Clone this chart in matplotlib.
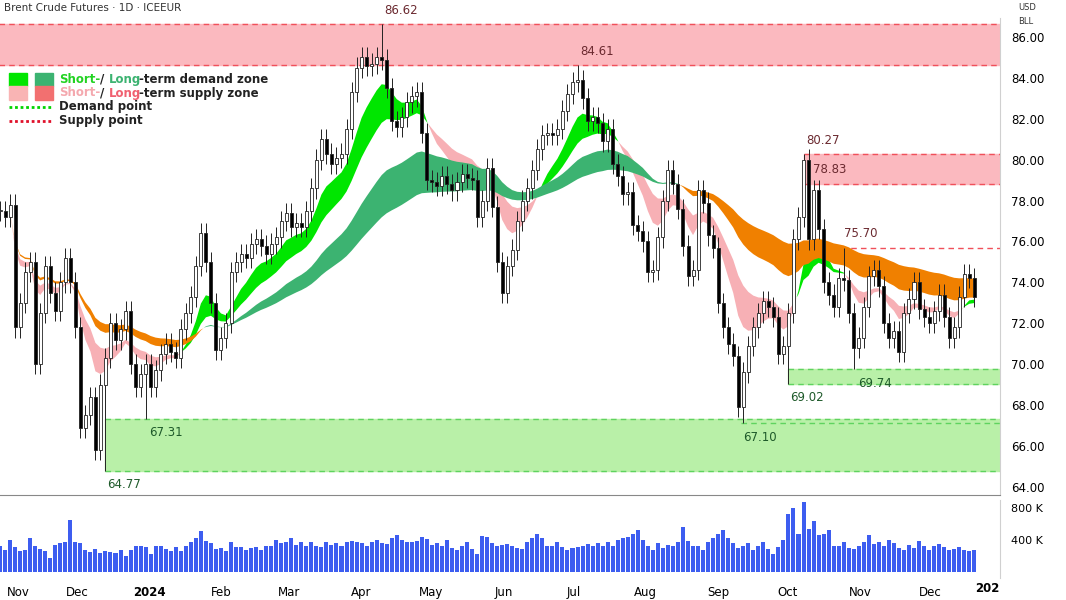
import numpy as np
import pandas as pd
import matplotlib.pyplot as plt
import matplotlib.dates as mdates
from matplotlib.patches import Rectangle
from matplotlib.lines import Line2D

# closes, evenly spaced from end of Oct 2023 to 20 Dec 2024
closes = [77.5, 77.2, 77.8, 71.8, 73.0, 74.5, 75.0, 70.0, 72.5, 74.8, 73.5, 72.6, 74.0, 75.2, 74.0, 71.8,
          66.9, 67.5, 68.4, 65.8, 69.0, 70.3, 72.0, 71.2, 71.7, 72.6, 70.0, 68.9, 69.5, 70.0, 68.9, 69.7,
          70.5, 71.0, 70.6, 70.3, 71.7, 72.5, 73.3, 74.8, 76.4, 75.0, 73.0, 70.7, 71.3, 72.0, 74.5, 75.0,
          75.4, 75.2, 75.9, 76.1, 75.8, 75.4, 75.9, 76.2, 77.0, 77.4, 76.7, 76.9, 76.7, 77.5, 78.6, 80.0,
          81.0, 80.3, 79.8, 80.1, 80.3, 81.5, 83.3, 84.5, 85.0, 84.6, 84.7, 85.0, 84.9, 83.5, 81.9, 81.6,
          82.1, 82.8, 83.1, 83.3, 81.3, 79.0, 78.9, 78.7, 79.2, 78.8, 78.5, 78.9, 79.3, 79.1, 79.0, 77.2,
          78.0, 79.6, 77.7, 75.0, 73.5, 74.8, 75.6, 77.0, 78.0, 78.6, 79.5, 80.5, 81.2, 81.3, 81.2, 81.5,
          82.4, 83.2, 83.8, 83.9, 83.0, 81.9, 82.1, 81.8, 80.9, 81.5, 79.8, 79.2, 78.3, 78.4, 76.8, 76.5,
          76.0, 74.5, 74.6, 76.2, 78.0, 79.5, 78.8, 77.6, 75.8, 74.3, 74.6, 78.5, 77.9, 76.3, 75.7, 73.0,
          71.8, 71.0, 70.4, 67.9, 69.6, 70.9, 71.8, 72.5, 73.1, 72.8, 72.3, 70.5, 70.9, 72.5, 76.1, 77.2,
          80.0, 76.1, 78.5, 76.6, 74.0, 73.4, 72.8, 74.2, 74.1, 72.5, 70.8, 71.3, 72.8, 74.3, 74.6, 73.8,
          72.0, 71.3, 71.6, 70.6, 72.5, 73.2, 74.0, 72.7, 72.3, 72.0, 72.6, 73.4, 72.3, 71.3, 71.8, 73.3,
          74.4, 74.2, 73.3]

volumes_k = [330, 280, 400, 310, 260, 280, 420, 330, 290, 260, 180, 340, 360, 380, 650, 370, 360, 280,
             250, 290, 240, 260, 250, 240, 280, 200, 270, 320, 330, 310, 230, 320, 330, 290, 260, 310,
             260, 330, 380, 420, 510, 390, 360, 290, 300, 260, 380, 310, 310, 280, 300, 310, 270, 320,
             330, 400, 360, 380, 420, 340, 380, 330, 370, 320, 310, 380, 340, 360, 330, 370, 390, 380,
             360, 330, 380, 400, 360, 350, 420, 460, 400, 370, 380, 390, 440, 410, 340, 360, 330, 400,
             300, 280, 320, 380, 290, 230, 450, 440, 360, 330, 340, 350, 330, 300, 290, 380, 420, 480,
             420, 330, 330, 370, 310, 280, 300, 310, 330, 350, 330, 360, 330, 380, 330, 400, 420, 440,
             480, 520, 400, 330, 280, 360, 300, 340, 320, 380, 560, 390, 330, 320, 270, 380, 430, 470,
             520, 420, 360, 300, 330, 360, 280, 320, 380, 290, 230, 310, 400, 720, 800, 480, 870, 540,
             640, 460, 480, 530, 330, 320, 370, 300, 290, 330, 380, 460, 350, 380, 330, 400, 360, 300,
             270, 340, 300, 390, 320, 280, 330, 350, 310, 270, 290, 310, 270, 260, 280]

# pivot extremes (date, price) shown on the chart
pivot_highs = [('2024-04-10', 86.62), ('2024-07-03', 84.61), ('2024-10-08', 80.27), ('2024-10-24', 75.70)]
pivot_lows = [('2023-12-13', 64.77), ('2023-12-31', 67.31), ('2024-09-11', 67.10),
              ('2024-10-01', 69.02), ('2024-10-30', 69.74)]

# zones: (start, low, high, kind)
zones = [('2023-10-20', 84.61, 86.62, 'supply'), ('2024-10-08', 78.83, 80.27, 'supply'),
         ('2023-12-13', 64.77, 67.31, 'demand'), ('2024-10-01', 69.02, 69.74, 'demand')]
lines = [('2024-10-24', 75.70, 'supply'), ('2024-09-11', 67.10, 'demand')]
labels = [('2024-04-10', 86.62, 'above'), ('2024-07-03', 84.61, 'above'), ('2024-10-08', 80.27, 'above'),
          ('2024-10-11', 78.83, 'above'), ('2024-10-24', 75.70, 'above'), ('2023-12-13', 64.77, 'below'),
          ('2023-12-31', 67.31, 'below'), ('2024-09-11', 67.10, 'below'), ('2024-10-01', 69.02, 'below'),
          ('2024-10-30', 69.74, 'below')]

dates = pd.date_range('2023-10-29', '2024-12-20', periods=len(closes))
df = pd.DataFrame({'close': closes, 'vol': np.array(volumes_k) * 1000}, index=dates)
df['open'] = df['close'].shift(1).fillna(df['close'].iloc[0])
df['high'] = df[['open', 'close']].max(axis=1) + 0.5
df['low'] = df[['open', 'close']].min(axis=1) - 0.5
for d, p in pivot_highs:
    i = np.argmin(np.abs(df.index - pd.Timestamp(d)))
    df.iloc[i, df.columns.get_loc('high')] = p
for d, p in pivot_lows:
    i = np.argmin(np.abs(df.index - pd.Timestamp(d)))
    df.iloc[i, df.columns.get_loc('low')] = p

# ribbons
s1 = df['close'].ewm(span=9).mean()
s2 = df['close'].ewm(span=18).mean()
l1 = df['close'].ewm(span=36).mean()
l2 = df['close'].ewm(span=70).mean()

fig = plt.figure(figsize=(10.66, 6), dpi=100)
ax = fig.add_axes([0, 0.175, 0.938, 0.795])
axv = fig.add_axes([0, 0.037, 0.938, 0.13], sharex=ax)

xn = mdates.date2num(df.index)
x0 = mdates.date2num(pd.Timestamp('2023-10-29'))
x1 = mdates.date2num(pd.Timestamp('2024-12-31'))
ax.set_xlim(x0, x1)
ax.set_ylim(63.6, 86.93)

for start, lo, hi, kind in zones:
    xs = mdates.date2num(pd.Timestamp(start))
    fc = '#fbb9bf' if kind == 'supply' else '#b9f0a8'
    ec = '#f0505a' if kind == 'supply' else '#5fd35f'
    ax.add_patch(Rectangle((xs, lo), x1 - xs, hi - lo, color=fc, zorder=0))
    ax.hlines([lo, hi], xs, x1, colors=ec, linestyles=(0, (4, 3)), lw=1, zorder=1)
for start, p, kind in lines:
    xs = mdates.date2num(pd.Timestamp(start))
    ec = '#f0505a' if kind == 'supply' else '#5fd35f'
    ax.hlines(p, xs, x1, colors=ec, linestyles=(0, (4, 3)), lw=1, zorder=1)
for d, p, pos in labels:
    xd = mdates.date2num(pd.Timestamp(d))
    col = '#6b2a30' if pos == 'above' else '#1e5a2a'
    dy = 0.35 if pos == 'above' else -0.35
    ax.text(xd + 1, p + dy, f'{p:.2f}', fontsize=8.5, color=col, va='bottom' if pos == 'above' else 'top',
            ha='left', zorder=5)

up = (s1 >= s2).values
ax.fill_between(xn, s1, s2, where=up, color='#00e600', lw=0, interpolate=True, zorder=2)
ax.fill_between(xn, s1, s2, where=~up, color='#f7b0b5', lw=0, interpolate=True, zorder=2)
lup = (l1 >= l2).values
ax.fill_between(xn, l1, l2, where=lup, color='#3cb371', lw=0, interpolate=True, zorder=2)
ax.fill_between(xn, l1, l2, where=~lup, color='#f08000', lw=0, interpolate=True, zorder=2)

w = (xn[1] - xn[0]) * 0.6
for xi, o, h, l, c in zip(xn, df['open'], df['high'], df['low'], df['close']):
    ax.vlines(xi, l, h, color='#222222', lw=0.7, zorder=3)
    fc = 'white' if c >= o else 'black'
    ax.add_patch(Rectangle((xi - w / 2, min(o, c)), w, max(abs(c - o), 0.05), facecolor=fc,
                           edgecolor='#222222', lw=0.6, zorder=4))

ax.yaxis.tick_right()
ax.set_yticks(np.arange(64, 87, 2))
ax.set_yticklabels([f'{v:.2f}' for v in np.arange(64, 87, 2)], fontsize=8.5)
ax.tick_params(axis='y', length=0, pad=8)
ax.tick_params(axis='x', bottom=False, labelbottom=False)
for sp in ['top', 'left']:
    ax.spines[sp].set_visible(False)
ax.spines['right'].set_color('#d0d0d0')
ax.spines['bottom'].set_color('#888888')

axv.bar(xn, df['vol'], width=(xn[1] - xn[0]) * 0.8, color='#3d5df0')
axv.set_ylim(-70e3, 900e3)
axv.yaxis.tick_right()
axv.set_yticks([400e3, 800e3])
axv.set_yticklabels(['400 K', '800 K'], fontsize=8)
axv.tick_params(axis='y', length=0, pad=8)
for sp in ['top', 'left', 'bottom']:
    axv.spines[sp].set_visible(False)
axv.spines['right'].set_color('#d0d0d0')

ticks = pd.date_range('2023-11-01', '2024-12-01', freq='MS')
axv.set_xticks(mdates.date2num(ticks))
tl = ['2024' if t.month == 1 and t.year == 2024 else t.strftime('%b') for t in ticks]
axv.set_xticklabels(tl, fontsize=8.5)
axv.tick_params(axis='x', length=0, pad=6)
for lab in axv.get_xticklabels():
    if lab.get_text() == '2024':
        lab.set_fontweight('bold')
axv.get_xticklabels()[0].set_horizontalalignment('left')
fig.text(0.938, 0.02, '202', fontsize=8.5, fontweight='bold', va='center', ha='right')

fig.text(0.004, 0.987, 'Brent Crude Futures · 1D · ICEEUR', fontsize=7.5, color='#333333', va='center')
fig.text(0.955, 0.987, 'USD', fontsize=6, color='#333333', va='center')
fig.text(0.955, 0.965, 'BLL', fontsize=6, color='#333333', va='center')

# legend
fig.patches.append(Rectangle((0.008, 0.856), 0.017, 0.022, color='#00e600', transform=fig.transFigure))
fig.patches.append(Rectangle((0.033, 0.856), 0.017, 0.022, color='#3cb371', transform=fig.transFigure))
fig.patches.append(Rectangle((0.008, 0.834), 0.017, 0.022, color='#f9b4b4', transform=fig.transFigure))
fig.patches.append(Rectangle((0.033, 0.834), 0.017, 0.022, color='#f27070', transform=fig.transFigure))
fig.lines.append(Line2D([0.008, 0.050], [0.822, 0.822], color='#00d400', lw=2, ls=(0, (1, 1)),
                        transform=fig.transFigure))
fig.lines.append(Line2D([0.008, 0.050], [0.799, 0.799], color='#e0102a', lw=2, ls=(0, (1, 1)),
                        transform=fig.transFigure))
fs = 8.5
fig.text(0.055, 0.868, 'Short-', color='#22d322', fontsize=fs, fontweight='bold', va='center')
fig.text(0.094, 0.868, '/', color='#222222', fontsize=fs, fontweight='bold', va='center')
fig.text(0.102, 0.868, 'Long', color='#3cb371', fontsize=fs, fontweight='bold', va='center')
fig.text(0.130, 0.868, '-term demand zone', color='#222222', fontsize=fs, fontweight='bold', va='center')
fig.text(0.055, 0.845, 'Short-', color='#f4a8ae', fontsize=fs, fontweight='bold', va='center')
fig.text(0.094, 0.845, '/', color='#222222', fontsize=fs, fontweight='bold', va='center')
fig.text(0.102, 0.845, 'Long', color='#f06070', fontsize=fs, fontweight='bold', va='center')
fig.text(0.130, 0.845, '-term supply zone', color='#222222', fontsize=fs, fontweight='bold', va='center')
fig.text(0.055, 0.822, 'Demand point', color='#222222', fontsize=fs, fontweight='bold', va='center')
fig.text(0.055, 0.799, 'Supply point', color='#222222', fontsize=fs, fontweight='bold', va='center')

fig.savefig('out.png', dpi=100)
